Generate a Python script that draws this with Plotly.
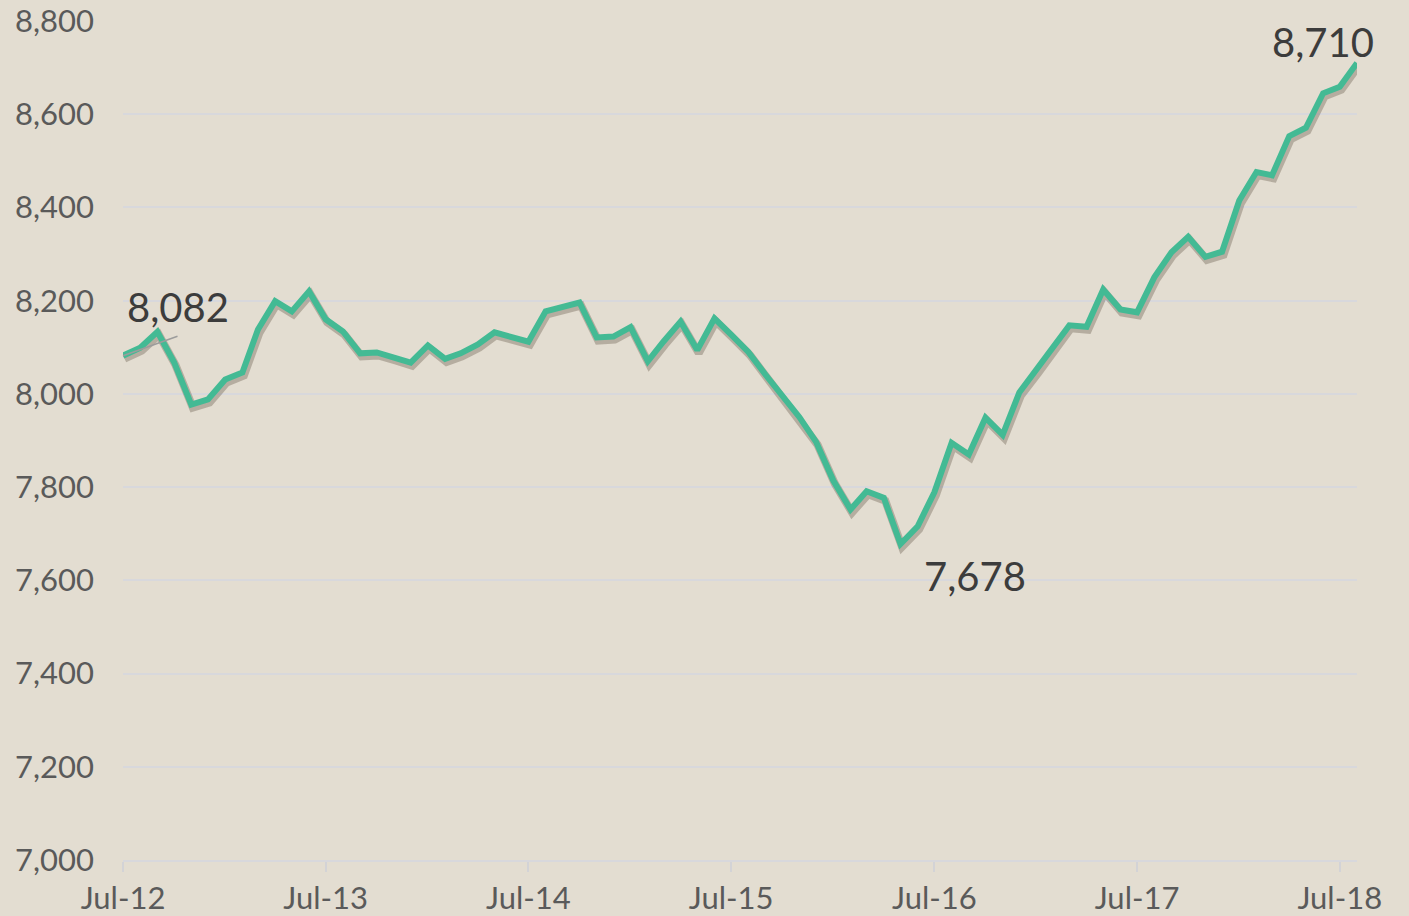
import pandas as pd
import plotly.graph_objects as go

# ---- data (monthly, Jul-2012 .. Aug-2018) ----
start_month = "2012-07-01"
values = [
    8082, 8099, 8133, 8068, 7977, 7988, 8031, 8046, 8138, 8199, 8177, 8220,
    8160, 8134, 8087, 8089, 8078, 8067, 8104, 8075, 8087, 8106, 8132, 8123,
    8112, 8177, 8185, 8196, 8121, 8123, 8143, 8070, 8112, 8155, 8094, 8162,
    8127, 8090, 8041, 7994, 7950, 7897, 7814, 7752, 7791, 7777, 7678, 7716,
    7789, 7895, 7870, 7949, 7912, 8003, 8051, 8100, 8147, 8144, 8224, 8181,
    8175, 8250, 8304, 8337, 8294, 8305, 8415, 8476, 8469, 8553, 8571, 8645,
    8659, 8710,
]
dates = pd.date_range(start_month, periods=len(values), freq="MS")
tick_dates = pd.date_range("2012-07-01", "2018-07-01", freq="12MS")
tick_labels = [d.strftime("%b-%y") for d in tick_dates]
y_range = [7000, 8800]
y_ticks = list(range(7000, 8801, 200))

# label annotations: (index into series, text)
labels = [(0, "8,082"), (46, "7,678"), (len(values) - 1, "8,710")]

# ---- style ----
BG = "#E3DDD1"
LINE = "#43BA94"
GRID = "#D8D8DC"
TICKC = "#5A5A5A"
ANNC = "#3C3C3C"
FONT = "Lato"

x0 = pd.Timestamp("2012-07-01")
x1 = pd.Timestamp("2018-08-01")
plot_w_px = 1409 - 123 - 52
plot_h_px = 916 - 21 - 56
sh_dx = (x1 - x0) / plot_w_px * 1.5   # ~1.5 px right
sh_dy = (y_range[1] - y_range[0]) / plot_h_px * 3.0  # ~3 px down

fig = go.Figure()

# shadow (base axes, shifted range)
fig.add_trace(go.Scatter(
    x=dates, y=values, mode="lines", xaxis="x", yaxis="y",
    line=dict(color="rgba(75,62,45,0.30)", width=8), hoverinfo="skip", showlegend=False,
))
# main line (overlay axes with the real range)
fig.add_trace(go.Scatter(
    x=dates, y=values, mode="lines", xaxis="x2", yaxis="y2",
    line=dict(color=LINE, width=6), showlegend=False,
))

annotations = []
# leader line for first label
annotations.append(dict(
    x=dates[0], y=values[0], xref="x2", yref="y2", text=" ", font=dict(size=1),
    showarrow=True, arrowhead=0, arrowwidth=1.5, arrowcolor="#9C9C9C",
    ax=56, ay=-20, standoff=0, startstandoff=0,
))
shifts = {0: (55, 49), 46: (74, -32), len(values) - 1: (-34, 21)}
for idx, txt in labels:
    dx, dy = shifts[idx]
    annotations.append(dict(
        x=dates[idx], y=values[idx], xref="x2", yref="y2", text=txt,
        showarrow=False, xshift=dx, yshift=dy, xanchor="center", yanchor="middle",
        font=dict(family=FONT, size=40, color=ANNC),
    ))

fig.update_layout(
    width=1409, height=916,
    margin=dict(l=123, r=52, t=21, b=56, pad=0, autoexpand=False),
    paper_bgcolor=BG, plot_bgcolor=BG,
    font=dict(family=FONT, color=TICKC),
    showlegend=False,
    xaxis=dict(
        range=[x0 - sh_dx, x1 - sh_dx], visible=False, showgrid=False, zeroline=False,
        automargin=False,
    ),
    yaxis=dict(
        range=[y_range[0] + sh_dy, y_range[1] + sh_dy], visible=False, showgrid=False, zeroline=False,
        automargin=False,
    ),
    xaxis2=dict(
        overlaying="x", anchor="y2", side="bottom", automargin=False,
        range=[x0, x1], tickvals=tick_dates, ticktext=tick_labels,
        showgrid=False, zeroline=False,
        ticks="outside", ticklen=10, tickwidth=1.5, tickcolor="#D3D3D6",
        showline=True, linecolor=GRID, linewidth=2,
        tickfont=dict(family=FONT, size=31, color=TICKC),
        ticklabelstandoff=0,
    ),
    yaxis2=dict(
        overlaying="y", anchor="x2", side="left", automargin=False,
        range=y_range, tickvals=y_ticks, tickformat=",d",
        showgrid=True, gridcolor=GRID, gridwidth=1.5, zeroline=False,
        ticks="", showline=False,
        tickfont=dict(family=FONT, size=31, color=TICKC),
        ticklabelstandoff=28,
    ),
    annotations=annotations,
)

fig.write_html(
    "out.html",
    config={"displayModeBar": False},
    post_script="document.body.style.margin='0';document.body.style.overflow='hidden';",
)
